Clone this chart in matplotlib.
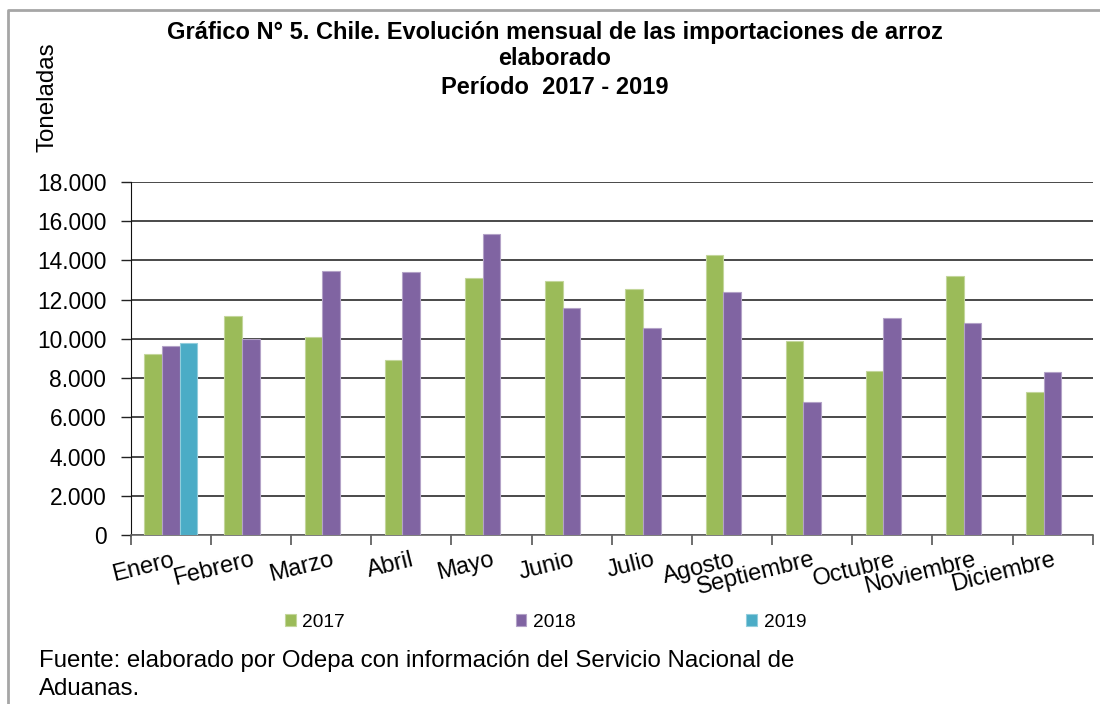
import numpy as np
import matplotlib.pyplot as plt
from matplotlib.lines import Line2D
from matplotlib.ticker import FuncFormatter

plt.rcParams['font.family'] = ['Liberation Sans', 'DejaVu Sans']

meses = ['Enero', 'Febrero', 'Marzo', 'Abril', 'Mayo', 'Junio', 'Julio',
         'Agosto', 'Septiembre', 'Octubre', 'Noviembre', 'Diciembre']
v2017 = [9230, 11170, 10110, 8920, 13100, 12940, 12540, 14260, 9880, 8380, 13230, 7290]
v2018 = [9640, 10000, 13450, 13410, 15350, 11580, 10570, 12380, 6770, 11070, 10800, 8310]
v2019 = [9790]

series = [('2017', v2017, '#9BBB59', '#C3D69B'),
          ('2018', v2018, '#8064A2', '#B3A2C7'),
          ('2019', v2019, '#4BACC6', '#92CDDC')]

fig = plt.figure(figsize=(11, 7.04), dpi=100)
ax = fig.add_axes([0.1188, 0.2401, 0.8746, 0.5014])

w = 0.22
for k, (nombre, vals, color, borde) in enumerate(series):
    x = np.arange(len(vals)) + (k - 1) * w
    ax.bar(x, vals, width=w, color=color, edgecolor=borde, linewidth=0.8,
           label=nombre, zorder=3)

ax.set_xlim(-0.5, 11.5)
ax.set_ylim(0, 18000)
ax.set_yticks(np.arange(0, 18001, 2000))
ax.yaxis.set_major_formatter(FuncFormatter(lambda v, p: f'{int(v):,}'.replace(',', '.')))
ax.grid(axis='y', color='#2a2a2a', linewidth=1.2, zorder=1)
ax.tick_params(axis='y', direction='out', length=7, width=1, pad=10.5,
               labelsize=16.4, color='#222222')

ax.set_xticks(np.arange(12))
ax.set_xticklabels(meses, rotation=14, ha='right', va='top', rotation_mode='anchor')
ax.set_xticks(np.arange(-0.5, 12, 1), minor=True)
ax.tick_params(axis='x', which='major', length=0, pad=10, labelsize=17)
ax.tick_params(axis='x', which='minor', direction='out', length=7, width=1.2,
               color='#555555')

for s in ['top', 'right']:
    ax.spines[s].set_visible(False)
ax.spines['left'].set_color('#111111')
ax.spines['bottom'].set_color('#666666')
ax.spines['bottom'].set_linewidth(1.2)

leg = fig.legend(loc='center', bbox_to_anchor=(0.496, 0.116), ncol=3, frameon=False,
                 fontsize=13.8, handlelength=0.55, handleheight=0.55,
                 handletextpad=0.35, columnspacing=8.9)

fig.text(0.5045, 0.954, 'Gráfico N° 5. Chile. Evolución mensual de las importaciones de arroz',
         ha='center', va='center', fontsize=17, fontweight='bold')
fig.text(0.5045, 0.917, 'elaborado', ha='center', va='center', fontsize=17, fontweight='bold')
fig.text(0.5045, 0.876, 'Período  2017 - 2019', ha='center', va='center',
         fontsize=17, fontweight='bold')
fig.text(0.043, 0.862, 'Toneladas', rotation=90, ha='center', va='center', fontsize=17.4)

fig.text(0.035, 0.061, 'Fuente: elaborado por Odepa con información del Servicio Nacional de',
         ha='left', va='center', fontsize=17.3)
fig.text(0.035, 0.022, 'Aduanas.', ha='left', va='center', fontsize=17.3)

# marco parcial del grafico
fig.add_artist(Line2D([0.0073, 0.0073, 1.0], [0.0, 0.9858, 0.9858],
                      transform=fig.transFigure, color='#a6a6a6', linewidth=2))

fig.savefig('out.png', dpi=100)
